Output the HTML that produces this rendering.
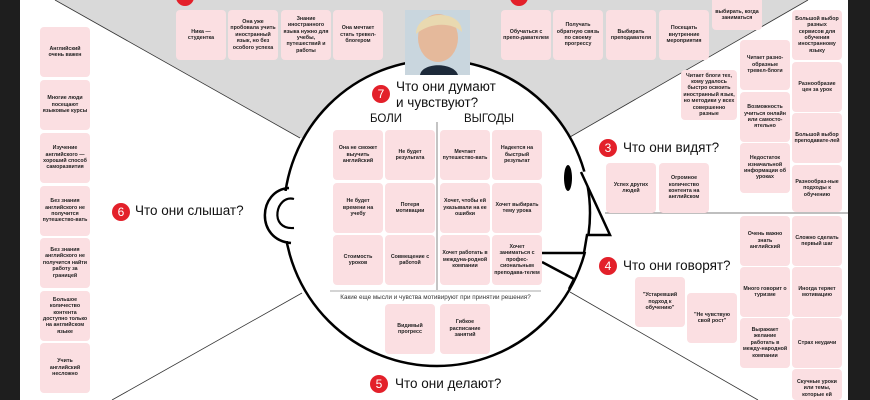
<!DOCTYPE html>
<html><head><meta charset="utf-8"><style>
*{margin:0;padding:0;box-sizing:border-box}
html,body{width:870px;height:400px;overflow:hidden}
body{background:#fff;position:relative;font-family:"Liberation Sans",sans-serif}
.c{position:absolute;width:50px;height:50px;background:#fbdfe2;border-radius:4px;display:flex;align-items:center;justify-content:center;text-align:center;font-size:5.3px;line-height:6.4px;color:#222;font-weight:bold;padding:2px;overflow:hidden}
.h{position:absolute;font-size:13.5px;color:#111;white-space:nowrap;line-height:16px}
.n{position:absolute;width:18px;height:18px;border-radius:50%;background:#e3202a;color:#fff;font-size:12px;text-align:center;line-height:18px}
.t{position:absolute;font-size:11.5px;color:#111}
</style></head><body>
<svg width="870" height="400" style="position:absolute;left:0;top:0">
<rect x="0" y="0" width="20" height="400" fill="#1e1e1e"/>
<rect x="848" y="0" width="22" height="400" fill="#1e1e1e"/>
<polygon points="55,0 808,0 570,137 300,138" fill="#d9d9d9"/>
<line x1="55" y1="0" x2="300" y2="138" stroke="#333" stroke-width="0.8"/>
<line x1="808" y1="0" x2="570" y2="137" stroke="#333" stroke-width="0.8"/>
<line x1="302" y1="293" x2="112" y2="400" stroke="#333" stroke-width="0.8"/>
<line x1="570" y1="292" x2="758" y2="400" stroke="#333" stroke-width="0.8"/>
<line x1="605" y1="213" x2="848" y2="213" stroke="#555" stroke-width="0.8"/>
<circle cx="437" cy="213" r="153" fill="#fff" stroke="#000" stroke-width="2.5"/>
<polygon points="581,172 611,235 587,235 584,252 597,252 597,170" fill="#fff"/>
<path d="M581,172 L610,235 L587,235 L584,253 L542,253" fill="none" stroke="#000" stroke-width="2.5" stroke-linejoin="miter"/>
<path d="M542,262 L574,279 L569,289" fill="none" stroke="#000" stroke-width="2.5"/>
<ellipse cx="568" cy="178" rx="4" ry="13" fill="#000"/>
<rect x="281" y="191" width="14" height="50" fill="#fff"/>
<path d="M289,188 C258,190 255,240 291,243" fill="none" stroke="#000" stroke-width="2.5"/>
<path d="M294,199 C276,194 268,230 294,228" fill="none" stroke="#000" stroke-width="2.2"/>
<line x1="437" y1="122" x2="437" y2="290" stroke="#888" stroke-width="1"/>
<line x1="330" y1="291" x2="541" y2="291" stroke="#aaa" stroke-width="1"/>
<rect x="405" y="10" width="65" height="65" fill="#c9d6de"/>
<ellipse cx="438" cy="38" rx="20" ry="24" fill="#e5b99b"/>
<path d="M416,34 C416,10 462,8 462,32 C452,22 430,22 416,34Z" fill="#e9d9b0"/>
<path d="M420,75 C422,62 454,62 458,75Z" fill="#1d2a3a"/>
</svg>
<div class="n" style="left:176px;top:-12px"></div><div class="n" style="left:510px;top:-12px"></div>
<div class="c" style="left:176px;top:10px">Ника — студентка</div>
<div class="c" style="left:228px;top:10px">Она уже пробовала учить иностранный язык, но без особого успеха</div>
<div class="c" style="left:281px;top:10px">Знание иностранного языка нужно для учебы, путешествий и работы</div>
<div class="c" style="left:333px;top:10px">Она мечтает стать тревел-блогером</div>
<div class="c" style="left:501px;top:10px">Обучаться с препо-давателем</div>
<div class="c" style="left:553px;top:10px">Получать обратную связь по своему прогрессу</div>
<div class="c" style="left:606px;top:10px">Выбирать преподавателя</div>
<div class="c" style="left:659px;top:10px">Посещать внутренние мероприятия</div>
<div class="c" style="left:712px;top:-20px;padding-top:22px">выбирать, когда заниматься</div>

<div class="c" style="left:40px;top:27px">Английский очень важен</div>
<div class="c" style="left:40px;top:80px">Многие люди посещают языковые курсы</div>
<div class="c" style="left:40px;top:133px">Изучение английского — хороший способ саморазвития</div>
<div class="c" style="left:40px;top:186px">Без знания английского не получится путешество-вать</div>
<div class="c" style="left:40px;top:238px">Без знания английского не получится найти работу за границей</div>
<div class="c" style="left:40px;top:291px">Большое количество контента доступно только на английском языке</div>
<div class="c" style="left:40px;top:343px">Учить английский несложно</div>
<div class="n" style="left:112px;top:203px">6</div><div class="h" style="left:135px;top:203px">Что они слышат?</div>

<div class="c" style="left:740px;top:40px">Читает разно-образные тревел-блоги</div>
<div class="c" style="left:740px;top:92px">Возможность учиться онлайн или самосто-ятельно</div>
<div class="c" style="left:740px;top:143px">Недостаток изначальной информации об уроках</div>
<div class="c" style="left:792px;top:10px">Большой выбор разных сервисов для обучения иностранному языку</div>
<div class="c" style="left:792px;top:62px">Разнообразие цен за урок</div>
<div class="c" style="left:792px;top:113px">Большой выбор преподавате-лей</div>
<div class="c" style="left:792px;top:165px;height:47px">Разнообраз-ные подходы к обучению</div>
<div class="c" style="left:681px;top:70px;width:56px">Читает блоги тех, кому удалось быстро освоить иностранный язык, но методики у всех совершенно разные</div>
<div class="n" style="left:599px;top:139px">3</div><div class="h" style="left:623px;top:140px">Что они видят?</div>
<div class="c" style="left:606px;top:163px">Успех других людей</div>
<div class="c" style="left:659px;top:163px">Огромное количество контента на английском</div>

<div class="c" style="left:740px;top:216px">Очень важно знать английский</div>
<div class="c" style="left:740px;top:267px">Много говорит о туризме</div>
<div class="c" style="left:740px;top:318px">Выражает желание работать в между-народной компании</div>
<div class="c" style="left:792px;top:216px">Сложно сделать первый шаг</div>
<div class="c" style="left:792px;top:267px">Иногда теряет мотивацию</div>
<div class="c" style="left:792px;top:318px">Страх неудачи</div>
<div class="c" style="left:792px;top:369px;height:31px;align-items:flex-start;padding-top:10px">Скучные уроки или темы, которые ей</div>
<div class="n" style="left:599px;top:257px">4</div><div class="h" style="left:623px;top:258px">Что они говорят?</div>
<div class="c" style="left:635px;top:277px">"Устаревший подход к обучению"</div>
<div class="c" style="left:687px;top:293px">"Не чувствую свой рост"</div>

<div class="n" style="left:372px;top:85px">7</div><div class="h" style="left:396px;top:79px">Что они думают<br>и чувствуют?</div>
<div class="t" style="left:370px;top:113px">БОЛИ</div><div class="t" style="left:464px;top:113px">ВЫГОДЫ</div>
<div class="c" style="left:333px;top:130px">Она не сможет выучить английский</div>
<div class="c" style="left:385px;top:130px">Не будет результата</div>
<div class="c" style="left:440px;top:130px">Мечтает путешество-вать</div>
<div class="c" style="left:492px;top:130px">Надеется на быстрый результат</div>
<div class="c" style="left:333px;top:183px">Не будет времени на учебу</div>
<div class="c" style="left:385px;top:183px">Потеря мотивации</div>
<div class="c" style="left:440px;top:183px">Хочет, чтобы ей указывали на ее ошибки</div>
<div class="c" style="left:492px;top:183px">Хочет выбирать тему урока</div>
<div class="c" style="left:333px;top:235px">Стоимость уроков</div>
<div class="c" style="left:385px;top:235px">Совмещение с работой</div>
<div class="c" style="left:440px;top:235px">Хочет работать в междуна-родной компании</div>
<div class="c" style="left:492px;top:235px">Хочет заниматься с профес-сиональным преподава-телем</div>
<div style="position:absolute;left:330px;top:294px;width:211px;text-align:center;font-size:6.3px;color:#333">Какие еще мысли и чувства мотивируют при принятии решения?</div>
<div class="c" style="left:385px;top:304px">Видимый прогресс</div>
<div class="c" style="left:440px;top:304px">Гибкое расписание занятий</div>
<div class="n" style="left:370px;top:375px">5</div><div class="h" style="left:395px;top:376px">Что они делают?</div>
</body></html>
